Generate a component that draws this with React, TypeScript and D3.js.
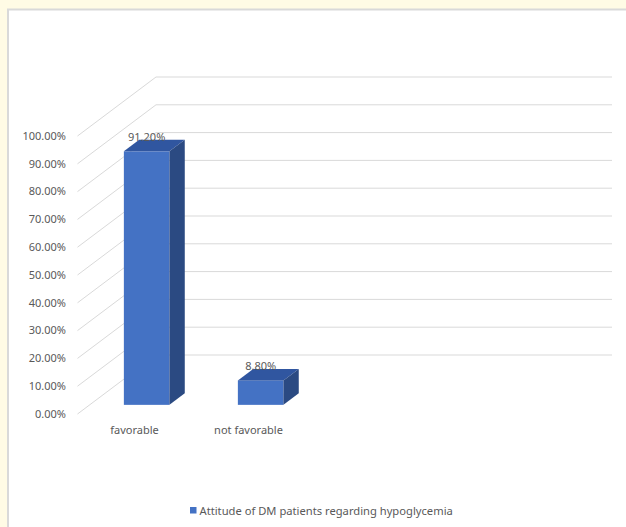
import React from "react";
import * as d3 from "d3";

// Attitude of DM patients regarding hypoglycemia
const categories: string[] = ["favorable", "not favorable"];
const values: number[] = [0.912, 0.088];
const valueLabels: string[] = ["91.20%", "8.80%"];
const yTicks: number[] = [0, 0.1, 0.2, 0.3, 0.4, 0.5, 0.6, 0.7, 0.8, 0.9, 1.0];
const seriesName = "Attitude of DM patients regarding hypoglycemia";
const slotCount = 4; // the category axis reserves four slots

const W = 626;
const H = 527;
const FONT = "'Noto Sans', 'Open Sans', sans-serif";
const TEXT = "#595959";
const GRID = "#d9d9d9";
const FRONT = "#4472C4";
const TOP = "#3056A0";
const SIDE = "#2B4A82";

// front plane of the plot
const x0 = 77.5;
const x1 = 533.5;
const yBottom = 414;
const yTop = 136;
// full depth offset of the back wall
const depthDx = 78.5;
const depthDy = -59;

export default function App() {
  const y = d3.scaleLinear().domain([0, 1]).range([yBottom, yTop]);
  const xBand = d3
    .scaleBand<number>()
    .domain(d3.range(slotCount))
    .range([x0, x1])
    .paddingInner(0)
    .paddingOuter(0);
  const depth = d3.scaleLinear().domain([0, 1]);
  const dx = (t: number) => depth.range([0, depthDx])(t);
  const dy = (t: number) => depth.range([0, depthDy])(t);

  const barWidth = xBand.bandwidth() / 2.5;
  const dFront = 0.155;
  const dBack = 0.35;

  const pts = (p: [number, number][]) => p.map((q) => q.join(",")).join(" ");

  return (
    <svg
      width={W}
      height={H}
      style={{ position: "absolute", left: 0, top: 0, display: "block" }}
    >
      <rect x={0} y={0} width={W} height={H} fill="#FFFBE5" />
      <rect x={8} y={9.5} width={W} height={H} fill="#ffffff" stroke={GRID} strokeWidth={2} />

      {/* gridlines: side wall diagonal + back wall horizontal */}
      <g stroke={GRID} strokeWidth={1} fill="none">
        {yTicks.map((t) => (
          <polyline
            key={t}
            points={pts([
              [x0, y(t)],
              [x0 + dx(1), y(t) + dy(1)],
              [x1 + dx(1), y(t) + dy(1)],
            ])}
          />
        ))}
      </g>

      {/* y axis labels */}
      <g fontFamily={FONT} fontSize={11} fill={TEXT} textAnchor="end">
        {yTicks.map((t) => (
          <text key={t} x={66} y={y(t)} dy="0.35em">
            {d3.format(".2%")(t)}
          </text>
        ))}
      </g>

      {/* bars */}
      {values.map((v, i) => {
        const bl = (xBand(i) as number) + (xBand.bandwidth() - barWidth) / 2;
        const br = bl + barWidth;
        const fx = dx(dFront);
        const fy = dy(dFront);
        const bx = dx(dBack);
        const by = dy(dBack);
        const yb = y(0);
        const yt = y(v);
        return (
          <g key={categories[i]}>
            <rect x={bl + fx} y={yt + fy} width={barWidth} height={yb - yt} fill={FRONT} />
            <polygon
              fill={TOP}
              points={pts([
                [bl + fx, yt + fy],
                [br + fx, yt + fy],
                [br + bx, yt + by],
                [bl + bx, yt + by],
              ])}
            />
            <polygon
              fill={SIDE}
              points={pts([
                [br + fx, yt + fy],
                [br + bx, yt + by],
                [br + bx, yb + by],
                [br + fx, yb + fy],
              ])}
            />
            <text
              x={(bl + br) / 2 + fx}
              y={yt + by + 1}
              textAnchor="middle"
              fontFamily={FONT}
              fontSize={11}
              fill={TEXT}
            >
              {valueLabels[i]}
            </text>
          </g>
        );
      })}

      {/* category labels */}
      <g fontFamily={FONT} fontSize={11} fill={TEXT} textAnchor="middle">
        {categories.map((c, i) => (
          <text key={c} x={(xBand(i) as number) + xBand.bandwidth() / 2} y={433.5}>
            {c}
          </text>
        ))}
      </g>

      {/* legend */}
      <g fontFamily={FONT} fontSize={11.2} fill={TEXT}>
        <rect x={190} y={507} width={6.5} height={6.5} fill={FRONT} />
        <text x={199.5} y={515}>
          {seriesName}
        </text>
      </g>
    </svg>
  );
}
